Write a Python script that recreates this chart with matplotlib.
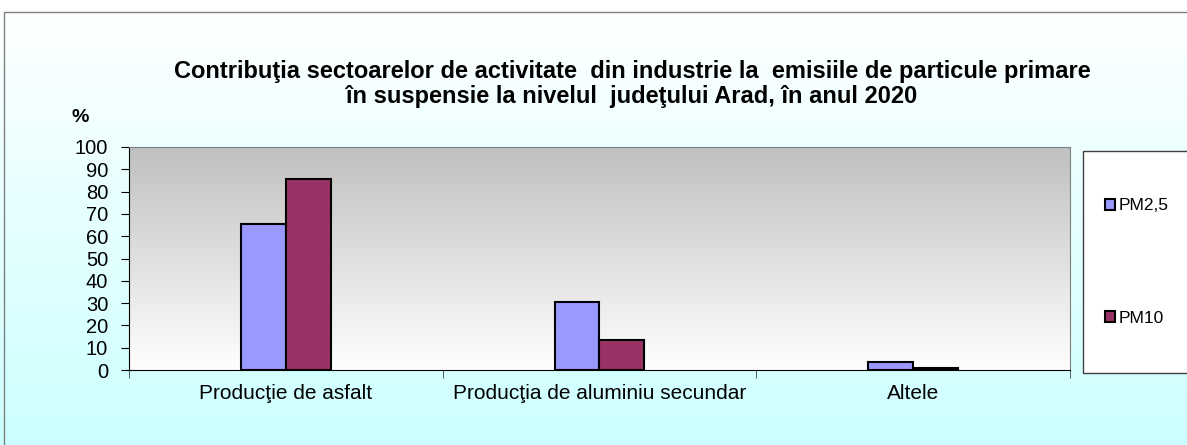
import numpy as np
import matplotlib.pyplot as plt
from matplotlib.colors import LinearSegmentedColormap
from matplotlib.patches import Rectangle

plt.rcParams['font.family'] = ['Liberation Sans', 'DejaVu Sans']

categorii = ['Producţie de asfalt', 'Producţia de aluminiu secundar', 'Altele']
pm25 = [65.5, 30.5, 3.6]
pm10 = [85.5, 13.5, 0.7]
serii = ['PM2,5', 'PM10']
culori = ['#9999ff', '#993366']

titlu = ('Contribuţia sectoarelor de activitate  din industrie la  emisiile de particule primare\n'
         'în suspensie la nivelul  judeţului Arad, în anul 2020')

fig = plt.figure(figsize=(11.87, 4.45), dpi=100)

# fundal figura: alb sus, cyan deschis jos
bg = fig.add_axes([0, 0, 1, 1], zorder=-2)
cmap_fig = LinearSegmentedColormap.from_list('fig', ['#ccffff', '#ffffff'])
bg.imshow(np.linspace(0, 1, 256).reshape(-1, 1)[::-1], cmap=cmap_fig,
          aspect='auto', extent=[0, 1, 0, 1])
bg.set_xlim(0, 1)
bg.set_ylim(0, 1)
bg.axis('off')
bg.plot([4 / 1187, 4 / 1187, 1], [0, 1 - 12 / 445, 1 - 12 / 445], color='#808080', lw=1)

ax = fig.add_axes([129 / 1187, 75 / 445, 941 / 1187, 223 / 445])
cmap_ax = LinearSegmentedColormap.from_list('ax', ['#ffffff', '#c0c0c0'])
ax.imshow(np.linspace(0, 1, 256).reshape(-1, 1), cmap=cmap_ax, origin='lower',
          aspect='auto', extent=[0, 1, 0, 1], transform=ax.transAxes, zorder=0)

x = np.arange(len(categorii))
w = 0.143
b1 = ax.bar(x - w / 2, pm25, w, color=culori[0], edgecolor='black', lw=1.5, label=serii[0], zorder=2)
b2 = ax.bar(x + w / 2, pm10, w, color=culori[1], edgecolor='black', lw=1.5, label=serii[1], zorder=2)

ax.set_xlim(-0.5, len(categorii) - 0.5)
ax.set_ylim(0, 100)
ax.set_yticks(range(0, 101, 10))
ax.set_xticks(x)
ax.set_xticklabels(categorii, fontsize=15)
ax.tick_params(axis='x', length=0, pad=10)
ax.set_xticks(np.arange(-0.5, len(categorii), 1), minor=True)
ax.tick_params(axis='x', which='minor', length=6, color='#404040')
ax.tick_params(axis='y', labelsize=14.5, length=6, pad=9)

for s in ['top', 'right']:
    ax.spines[s].set_color('#808080')
ax.spines['left'].set_color('black')
ax.spines['bottom'].set_color('black')

fig.text(80 / 1187, 1 - 118 / 445, '%', fontsize=14, fontweight='bold', ha='center', va='center')
fig.text(632 / 1187, 1 - 84 / 445, titlu, fontsize=17, fontweight='bold',
         ha='center', va='center', linespacing=1.12)

# caseta legendei
fig.add_artist(Rectangle((1083 / 1187, 1 - 373 / 445), 110 / 1187, 222 / 445,
                         transform=fig.transFigure, facecolor='white', edgecolor='#404040', lw=1))
fig.legend(handles=[b1, b2], loc='center left', bbox_to_anchor=(1089 / 1187, 1 - 262 / 445),
           frameon=False, fontsize=12.5, labelspacing=5.6, handlelength=0.6, handleheight=0.6,
           handletextpad=0.2)

fig.savefig('out.png', dpi=100)
